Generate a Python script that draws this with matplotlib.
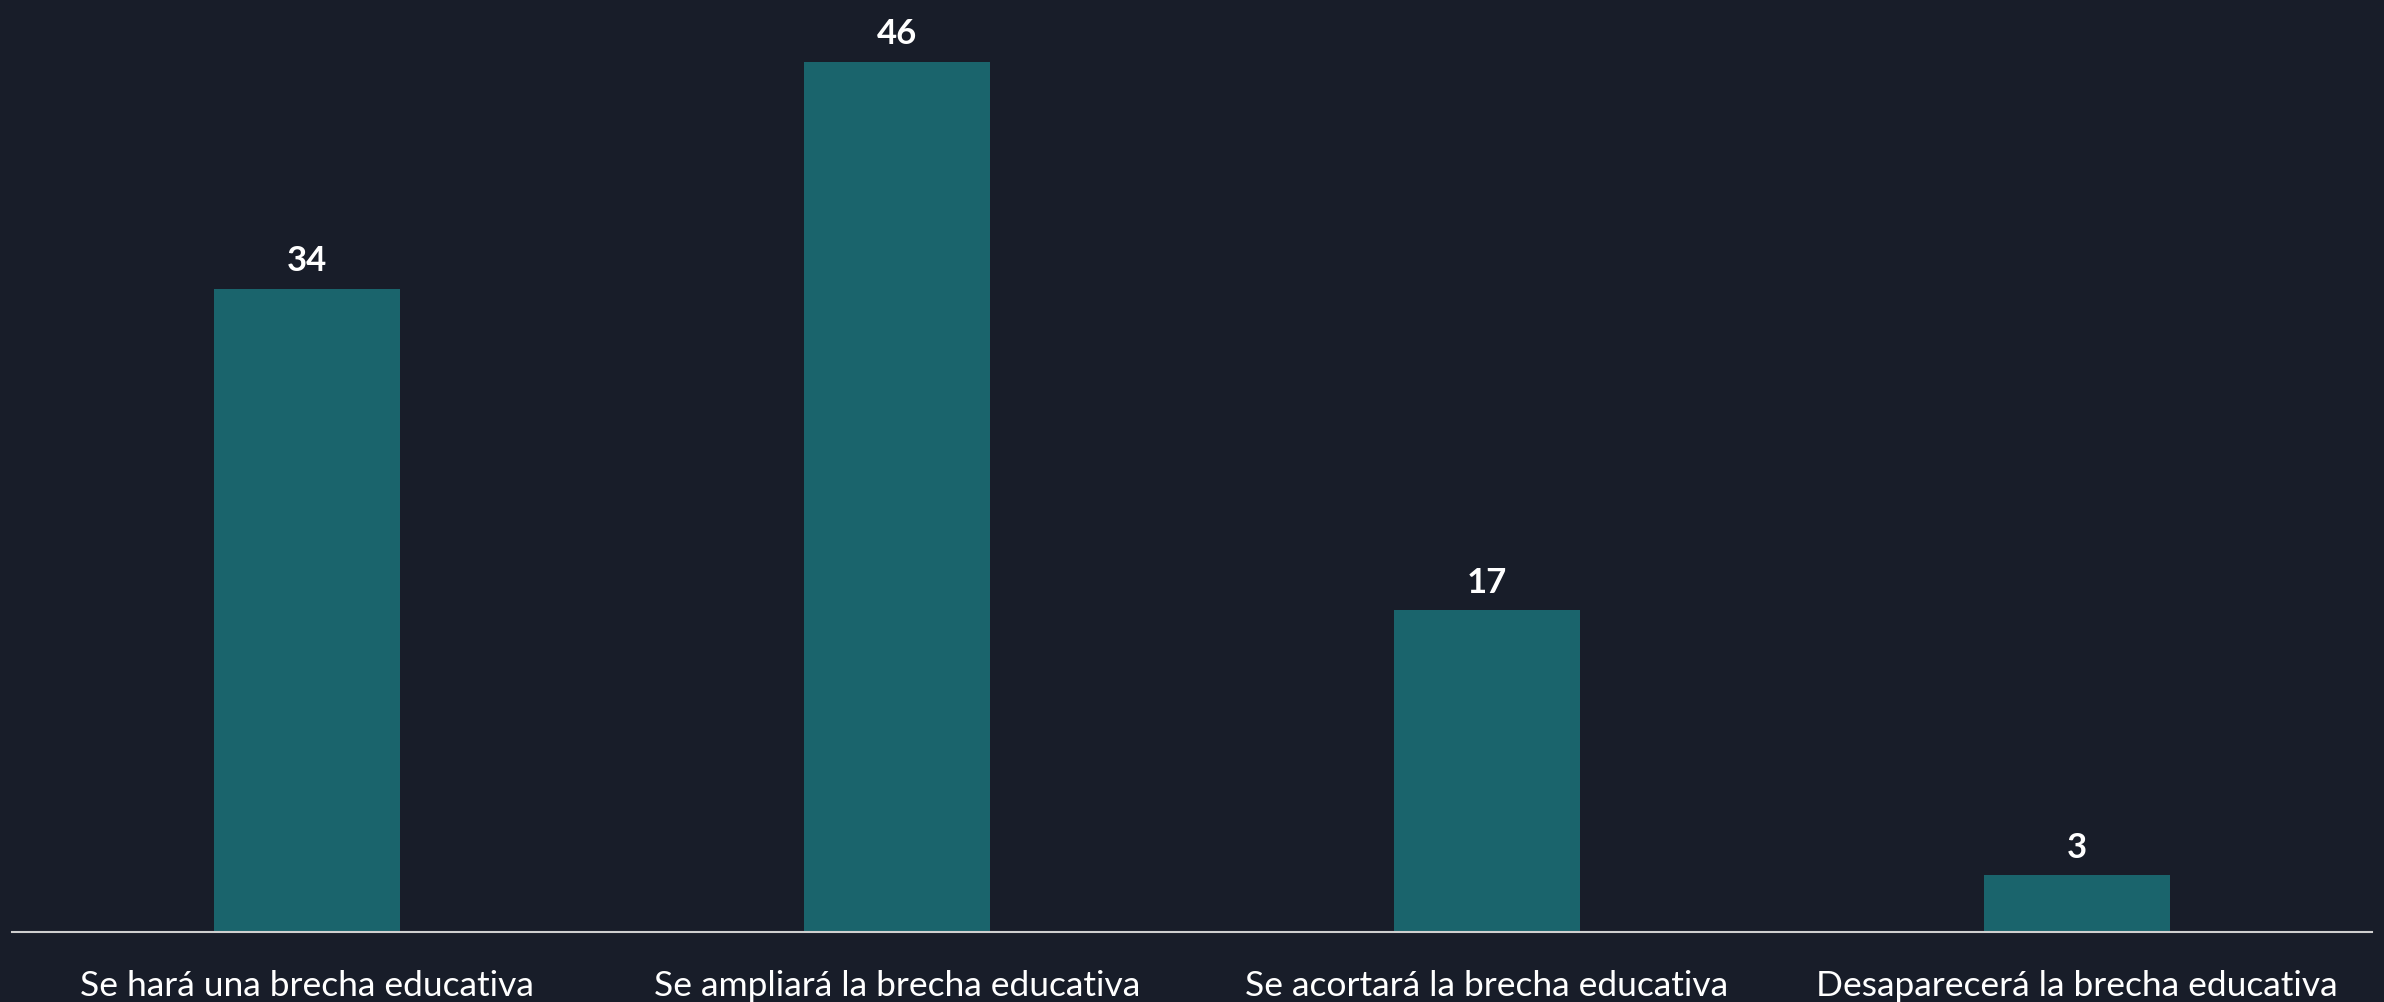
import matplotlib
matplotlib.use('Agg')
import matplotlib.pyplot as plt
import numpy as np

categorias = ['Se hará una brecha educativa', 'Se ampliará la brecha educativa',
              'Se acortará la brecha educativa', 'Desaparecerá la brecha educativa']
valores = [34, 46, 17, 3]

fondo = '#181d29'
color_barra = '#1a646c'

plt.rcParams['font.family'] = ['Lato', 'DejaVu Sans']

fig = plt.figure(figsize=(23.84, 10.02), dpi=100, facecolor=fondo)
ax = fig.add_axes([12 / 2384, 1 - 932 / 1002, 2360 / 2384, 912 / 1002])
ax.set_facecolor(fondo)

x = np.arange(len(categorias))
barras = ax.bar(x, valores, width=0.315, color=color_barra)

for b, v in zip(barras, valores):
    ax.text(b.get_x() + b.get_width() / 2, v + 0.6, str(v), ha='center', va='bottom',
            color='white', fontsize=25, fontweight='bold')

ax.set_xlim(-0.5, 3.5)
ax.set_ylim(0, 48.2)
ax.set_xticks(x)
ax.set_xticklabels(categorias, color='white', fontsize=25.5)
ax.tick_params(axis='x', length=0, pad=27)
ax.set_yticks([])
for s in ['top', 'right', 'left']:
    ax.spines[s].set_visible(False)
ax.spines['bottom'].set_color('#cfcfcf')
ax.spines['bottom'].set_linewidth(1.5)

fig.savefig('out.png', dpi=100, facecolor=fondo)
